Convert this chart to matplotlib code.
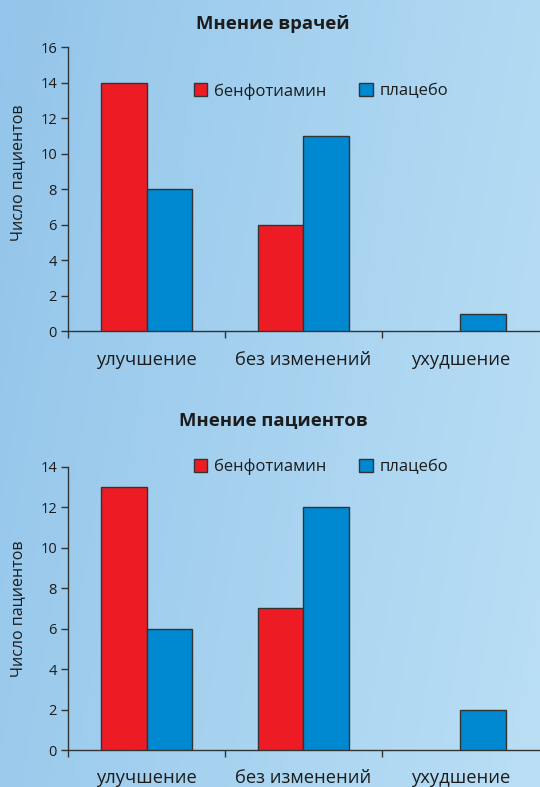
import numpy as np
import matplotlib
matplotlib.use("Agg")
import matplotlib.pyplot as plt
from matplotlib.patches import Patch

plt.rcParams['font.family'] = ['Open Sans', 'DejaVu Sans']

categories = ["улучшение", "без изменений", "ухудшение"]
series_names = ["бенфотиамин", "плацебо"]
doctors_benfo = [14, 6, 0]
doctors_placebo = [8, 11, 1]
patients_benfo = [13, 7, 0]
patients_placebo = [6, 12, 2]
titles = ["Мнение врачей", "Мнение пациентов"]
ylabel = "Число пациентов"
ymax = [16, 14]

RED = "#ED1C24"
BLUE = "#0088D1"
EDGE = "#333333"
TEXT = "#1c1c1c"

fig = plt.figure(figsize=(5.40, 7.87), dpi=100)

# soft blue gradient background, darker at the left
bg = fig.add_axes([0, 0, 1, 1], zorder=-10)
gx = np.linspace(0, 1, 300)
gy = np.linspace(0, 1, 300)
X, Y = np.meshgrid(gx, gy)
t = np.clip(0.8 * X + 0.2 * (1 - Y), 0, 1)
c0 = np.array([0x93, 0xC5, 0xEA]) / 255
c1 = np.array([0xBA, 0xDF, 0xF5]) / 255
img = c0[None, None, :] * (1 - t[..., None]) + c1[None, None, :] * t[..., None]
bg.imshow(img, extent=[0, 1, 0, 1], aspect='auto', origin='lower')
bg.axis('off')

positions = [[0.126, 0.579, 0.872, 0.361], [0.126, 0.047, 0.872, 0.360]]
data = [(doctors_benfo, doctors_placebo), (patients_benfo, patients_placebo)]
legend_y = [0.845, 1.0]
ylabel_y = [0.56, 0.5]

x = np.arange(len(categories))
w = 0.29
for i, (pos, (b, p)) in enumerate(zip(positions, data)):
    ax = fig.add_axes(pos)
    ax.patch.set_alpha(0)
    b = np.asarray(b, dtype=float)
    p = np.asarray(p, dtype=float)
    ax.bar(x - w / 2, b, w, color=RED,
           edgecolor=[EDGE if v > 0 else 'none' for v in b], linewidth=1.0, zorder=3)
    ax.bar(x + w / 2, p, w, color=BLUE,
           edgecolor=[EDGE if v > 0 else 'none' for v in p], linewidth=1.0, zorder=3)
    ax.set_xlim(-0.5, len(categories) - 0.5)
    ax.set_ylim(0, ymax[i])
    ax.set_yticks(np.arange(0, ymax[i] + 1, 2))
    ax.set_xticks(x)
    ax.set_xticklabels(categories, fontsize=13.2, color=TEXT)
    ax.set_xticks(np.arange(len(categories)) - 0.5, minor=True)
    ax.tick_params(axis='x', which='major', length=0, pad=14)
    ax.tick_params(axis='x', which='minor', length=5, width=1, color=EDGE, direction='out')
    ax.tick_params(axis='y', length=5, width=1, color=EDGE, labelsize=10.5, labelcolor=TEXT, direction='out', pad=3)
    for s in ['top', 'right']:
        ax.spines[s].set_visible(False)
    for s in ['left', 'bottom']:
        ax.spines[s].set_color(EDGE)
        ax.spines[s].set_linewidth(1)
    ax.set_ylabel(ylabel, fontsize=11.5, color=TEXT)
    ax.yaxis.set_label_coords(-0.088, ylabel_y[i])
    ax.set_title(titles[i], fontsize=13.3, fontweight='bold', color=TEXT, x=0.435,
                 pad=13 if i == 0 else 29)
    handles = [Patch(facecolor=RED, edgecolor=EDGE, linewidth=1),
               Patch(facecolor=BLUE, edgecolor=EDGE, linewidth=1)]
    ax.legend(handles, series_names, ncol=2, frameon=False, loc='center',
              bbox_to_anchor=(0.537, legend_y[i]), fontsize=12, labelcolor=TEXT,
              handlelength=0.8, handleheight=0.8, handletextpad=0.4, columnspacing=2.0)

fig.savefig("out.png", dpi=100)
